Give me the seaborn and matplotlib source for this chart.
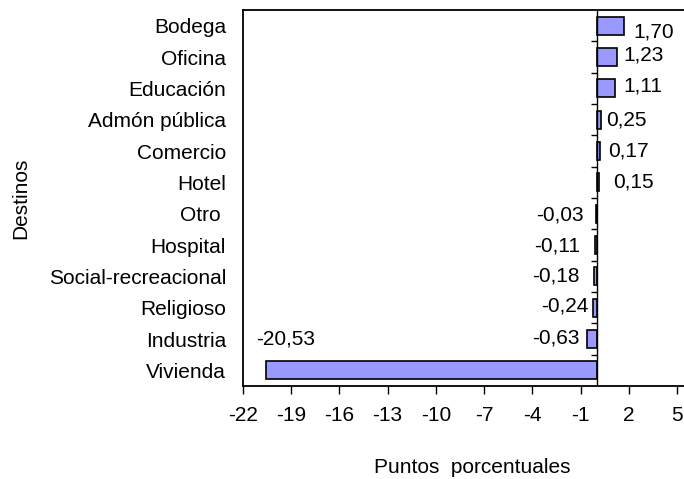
import matplotlib
matplotlib.use("Agg")
import matplotlib.pyplot as plt
import seaborn as sns
import pandas as pd

# Data (top to bottom as in the chart)
destinos = ["Bodega", "Oficina", "Educación", "Admón pública", "Comercio", "Hotel",
            "Otro ", "Hospital", "Social-recreacional", "Religioso", "Industria", "Vivienda"]
puntos = [1.70, 1.23, 1.11, 0.25, 0.17, 0.15, -0.03, -0.11, -0.18, -0.24, -0.63, -20.53]
etiquetas = ["1,70", "1,23", "1,11", "0,25", "0,17", "0,15",
             "-0,03", "-0,11", "-0,18", "-0,24", "-0,63", "-20,53"]
x_ticks = [-22, -19, -16, -13, -10, -7, -4, -1, 2, 5]

# label offsets in points (dx, dy; positive dy = up), tuned to match the reference
label_offsets = [(7, -4.5), (5, 1.5), (6, 1.5), (4, 0), (6, 0), (10, 0),
                 (-9, -1), (-11, -1), (-10, 0), (-3, 1.5), (-5, 1), (-7, 9)]

sns.set_style("white")
plt.rcParams['font.family'] = ['Liberation Sans', 'DejaVu Sans']
plt.rcParams.update({"text.color": "black", "axes.labelcolor": "black",
                     "xtick.color": "black", "ytick.color": "black"})
FS = 15

df = pd.DataFrame({"destino": destinos, "puntos": puntos})

fig = plt.figure(figsize=(6.84, 4.79), dpi=100)
ax = fig.add_axes([0.3548, 0.194, 0.6452, 0.785])

sns.barplot(data=df, x="puntos", y="destino", orient="h", color="#9999FF",
            saturation=1, edgecolor="black", linewidth=1.2, width=0.58, ax=ax)

ax.set_xlim(-22, 5.42)
ax.set_ylim(len(destinos) - 0.5, -0.5)
ax.set_xticks(x_ticks)
ax.set_xticklabels([str(t) for t in x_ticks])
ax.tick_params(axis="x", direction="out", length=6, width=1, color="black",
               labelsize=FS, pad=8, bottom=True)
ax.tick_params(axis="y", length=0, labelsize=FS, pad=12)

for side in ["left", "top", "bottom"]:
    ax.spines[side].set_color("black")
    ax.spines[side].set_linewidth(1.3)
ax.spines["right"].set_visible(False)

# category axis at zero with small ticks between categories
ax.axvline(0, color="black", linewidth=1)
ax.hlines([b + 0.5 for b in range(len(destinos) - 1)], -0.37, 0, color="black", linewidth=1)

last = len(puntos) - 1
for i, (v, lab) in enumerate(zip(puntos, etiquetas)):
    dx, dy = label_offsets[i]
    if i == last:
        ax.annotate(lab, xy=(v, i - 0.3), xytext=(dx, dy), textcoords="offset points",
                    ha="left", va="bottom", fontsize=FS)
    else:
        ax.annotate(lab, xy=(v, i), xytext=(dx, dy), textcoords="offset points",
                    ha="left" if v >= 0 else "right", va="center", fontsize=FS)

ax.set_xlabel("Puntos  porcentuales", fontsize=FS)
ax.xaxis.set_label_coords(0.52, -0.19)
ax.set_ylabel("Destinos", fontsize=FS)
ax.yaxis.set_label_coords(-0.482, 0.5)

fig.savefig("out.png", dpi=100)
